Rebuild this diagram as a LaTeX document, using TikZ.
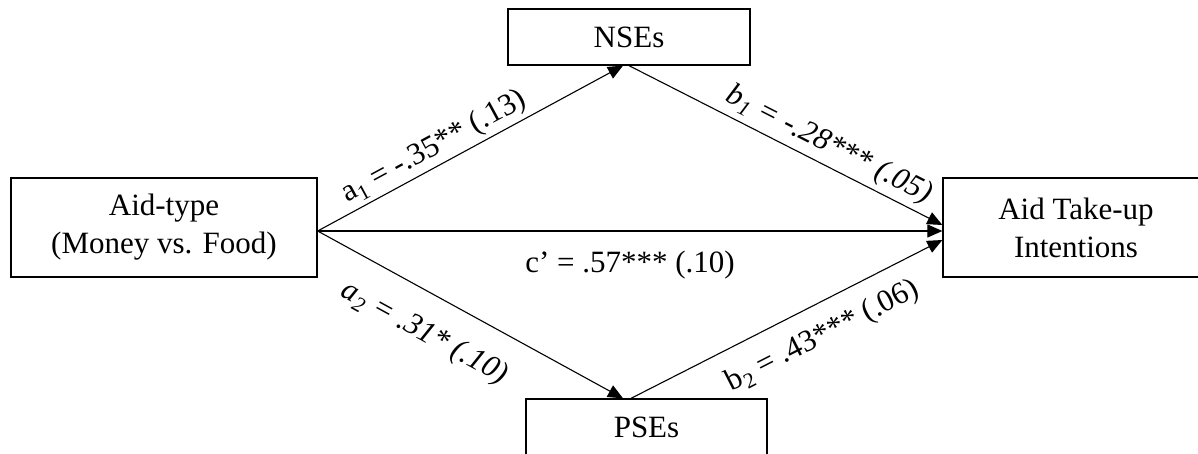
\documentclass[tikz,border=0pt]{standalone}
\usepackage{fontspec}
\setmainfont{Liberation Serif}
\usetikzlibrary{arrows.meta}
\begin{document}
\begin{tikzpicture}[x=1pt,y=-1pt,
  box/.style={draw, line width=1.3pt, inner sep=0pt, align=center, font=\fontsize{31}{38}\selectfont},
  conn/.style={line width=1.1pt, -{Triangle[length=15pt,width=13pt]}},
  lab/.style={font=\fontsize{31}{38}\selectfont, inner sep=0pt, sloped}]
\useasboundingbox (0,0) rectangle (1198,454);
\node[box, minimum width=306pt, minimum height=99pt] (A) at (164,227.5) {Aid-type\\(Money vs. Food)};
\node[box, minimum width=266pt, minimum height=99pt] (Y) at (1076,227.5) {Aid Take-up\\Intentions};
\node[box, minimum width=242pt, minimum height=56pt] (N) at (629,37) {NSEs};
\node[box, minimum width=241pt, minimum height=56pt] (P) at (646.5,427) {PSEs};
\draw[conn] ([yshift=-3.5pt]A.east) -- node[lab, above=3.5pt, pos=0.41] {a\textsubscript{1} = -.35** (.13)} ([xshift=-6pt]N.south);
\draw[conn] (N.south) -- node[lab, above=5pt, pos=0.61] {\itshape b\textsubscript{1} = -.28*** (.05)} ([yshift=2.5pt]Y.west);
\draw[conn] ([yshift=-3.5pt]A.east) -- node[lab, below=19pt, pos=0.5] {c’ = .57*** (.10)} ([yshift=-3.5pt]Y.west);
\draw[conn] ([yshift=-3.5pt]A.east) -- node[lab, below=24pt, pos=0.41] {\itshape a\textsubscript{2} = .31* (.10)} ([xshift=-23.5pt]P.north);
\draw[conn] ([xshift=-15.5pt]P.north) -- node[lab, below=17pt, pos=0.57] {b\textsubscript{2} = .43*** (.06)} ([yshift=-12.5pt]Y.west);
\end{tikzpicture}
\end{document}
